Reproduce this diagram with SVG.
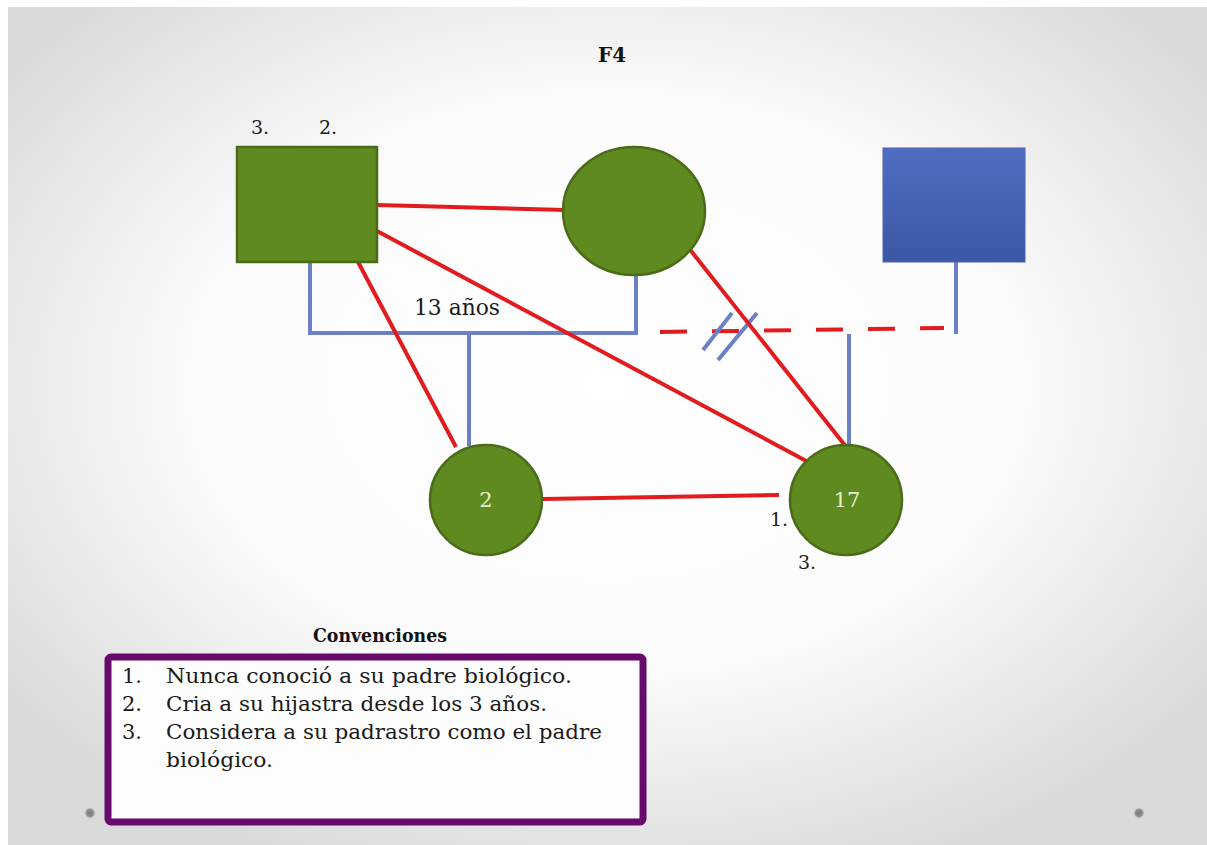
<svg xmlns="http://www.w3.org/2000/svg" width="1207" height="845" viewBox="0 0 1207 845">
  <defs>
    <radialGradient id="bg" cx="0.5" cy="0.45" r="0.62">
      <stop offset="0" stop-color="#ffffff"/>
      <stop offset="0.55" stop-color="#fbfbfb"/>
      <stop offset="1" stop-color="#dadada"/>
    </radialGradient>
    <linearGradient id="blueFill" x1="0" y1="0" x2="0" y2="1">
      <stop offset="0" stop-color="#506dc2"/>
      <stop offset="1" stop-color="#3c57a4"/>
    </linearGradient>
    <radialGradient id="dot">
      <stop offset="0" stop-color="#7a7a7a"/>
      <stop offset="0.6" stop-color="#8f8f8f"/>
      <stop offset="1" stop-color="#d0d0d0" stop-opacity="0"/>
    </radialGradient>
    <style>
      .green { fill: #5f8a20; stroke: #4a6b18; stroke-width: 2.5; }
      .red { stroke: #e21b1f; stroke-width: 4; fill: none; stroke-linecap: butt; }
      .blue { stroke: #6b80c6; stroke-width: 4; fill: none; }
      .lbl { font-family: "DejaVu Serif", "Liberation Serif", serif; fill: #1a1a1a; }
      .inner { font-family: "DejaVu Serif", "Liberation Serif", serif; fill: #e6efcc; }
      .bold { font-family: "DejaVu Serif", "Liberation Serif", serif; font-weight: bold; fill: #111111; }
    </style>
  </defs>

  <rect x="0" y="0" width="1207" height="845" fill="#ffffff"/>
  <rect x="8" y="7" width="1199" height="838" fill="url(#bg)"/>
  <circle cx="90" cy="813" r="6" fill="url(#dot)"/>
  <circle cx="1139" cy="813" r="6" fill="url(#dot)"/>

  <text class="bold" x="612" y="62" font-size="20" text-anchor="middle" textLength="28" lengthAdjust="spacingAndGlyphs">F4</text>

  <g id="connectors">
    <polyline class="blue" points="310,262 310,333 636,333 636,274"/>
    <line class="blue" x1="469" y1="333" x2="469" y2="446"/>
    <line class="blue" x1="956" y1="262" x2="956" y2="334"/>
    <line class="blue" x1="849" y1="334" x2="849" y2="447"/>
    <line class="red" x1="660" y1="332" x2="944" y2="328" stroke-dasharray="27 25"/>
    <line class="blue" x1="703" y1="350" x2="732" y2="313"/>
    <line class="blue" x1="718" y1="360" x2="757" y2="313"/>
    <line class="red" x1="377" y1="205" x2="565" y2="210"/>
    <line class="red" x1="377" y1="231" x2="810" y2="463"/>
    <line class="red" x1="357" y1="260" x2="456" y2="447"/>
    <line class="red" x1="684" y1="242" x2="847" y2="448"/>
    <line class="red" x1="543" y1="499" x2="779" y2="495"/>
  </g>

  <g id="node-father">
    <rect class="green" x="237" y="147" width="140" height="115"/>
    <text class="lbl" x="251" y="134" font-size="19">3.</text>
    <text class="lbl" x="319" y="134" font-size="19">2.</text>
  </g>

  <g id="node-mother">
    <ellipse class="green" cx="634" cy="211" rx="71" ry="64"/>
  </g>

  <g id="node-bio-father">
    <rect x="883" y="148" width="142" height="114" fill="url(#blueFill)" stroke="#4a64b0" stroke-width="1"/>
  </g>

  <g id="label-13">
    <text class="lbl" x="414" y="315" font-size="23" textLength="86" lengthAdjust="spacingAndGlyphs">13 años</text>
  </g>

  <g id="node-child-2">
    <ellipse class="green" cx="486" cy="500" rx="56" ry="55"/>
    <text class="inner" x="486" y="507" font-size="21" text-anchor="middle">2</text>
  </g>

  <g id="node-child-17">
    <ellipse class="green" cx="846" cy="500" rx="56" ry="55"/>
    <text class="inner" x="847" y="507" font-size="21" text-anchor="middle">17</text>
    <text class="lbl" x="770" y="526" font-size="19">1.</text>
    <text class="lbl" x="798" y="569" font-size="19">3.</text>
  </g>

  <g id="legend">
    <text class="bold" x="313" y="642" font-size="19" textLength="134" lengthAdjust="spacingAndGlyphs">Convenciones</text>
    <rect x="108" y="657" width="535" height="165" rx="3" fill="#fdfdfd" stroke="#670a6c" stroke-width="7"/>
    <text class="lbl" font-size="21">
      <tspan x="122" y="683">1.</tspan>
      <tspan x="122" y="711">2.</tspan>
      <tspan x="122" y="739">3.</tspan>
    </text>
    <text class="lbl" x="166" y="683" font-size="21" textLength="406" lengthAdjust="spacingAndGlyphs">Nunca conoció a su padre biológico.</text>
    <text class="lbl" x="166" y="711" font-size="21" textLength="381" lengthAdjust="spacingAndGlyphs">Cria a su hijastra desde los 3 años.</text>
    <text class="lbl" x="166" y="739" font-size="21" textLength="436" lengthAdjust="spacingAndGlyphs">Considera a su padrastro como el padre</text>
    <text class="lbl" x="166" y="767" font-size="21" textLength="107" lengthAdjust="spacingAndGlyphs">biológico.</text>
  </g>
</svg>
